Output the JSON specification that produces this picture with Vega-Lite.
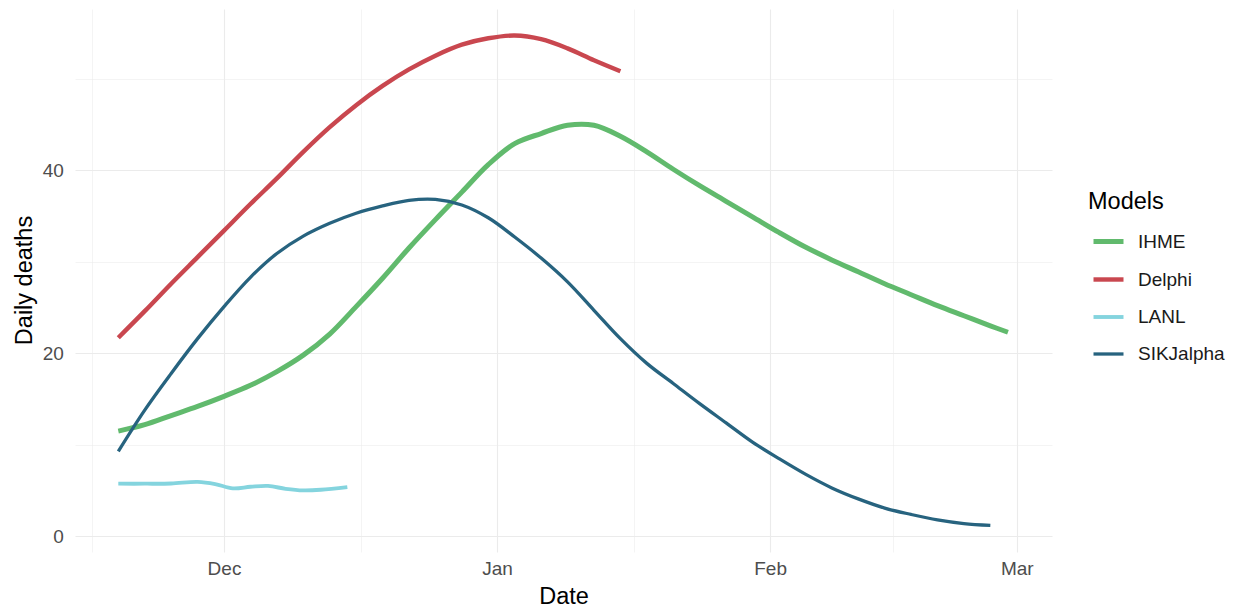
{
  "$schema": "https://vega.github.io/schema/vega-lite/v6.json",
  "autosize": {"type": "none"},
  "width": 977,
  "height": 543,
  "padding": {"left": 75, "top": 9, "right": 182, "bottom": 56},
  "background": "white",
  "config": {
    "view": {"stroke": null},
    "font": "Liberation Sans",
    "axis": {"domain": false, "ticks": false, "tickSize": 0, "gridColor": "#EBEBEB", "labelColor": "#4D4D4D", "labelFontSize": 19, "titleFontSize": 23.5, "titleFontWeight": "normal", "titleColor": "#000000", "labelFont": "Liberation Sans", "titleFont": "Liberation Sans"},
    "legend": {"labelFont": "Liberation Sans", "titleFont": "Liberation Sans"}
  },
  "data": {
    "values": [
      {"date": "2020-11-19", "model": "IHME", "deaths": 11.5},
      {"date": "2020-11-22", "model": "IHME", "deaths": 12.2},
      {"date": "2020-11-25", "model": "IHME", "deaths": 13.2},
      {"date": "2020-11-28", "model": "IHME", "deaths": 14.2},
      {"date": "2020-12-01", "model": "IHME", "deaths": 15.3},
      {"date": "2020-12-04", "model": "IHME", "deaths": 16.5},
      {"date": "2020-12-07", "model": "IHME", "deaths": 18.0},
      {"date": "2020-12-10", "model": "IHME", "deaths": 19.8},
      {"date": "2020-12-13", "model": "IHME", "deaths": 22.1},
      {"date": "2020-12-16", "model": "IHME", "deaths": 25.1},
      {"date": "2020-12-19", "model": "IHME", "deaths": 28.2},
      {"date": "2020-12-22", "model": "IHME", "deaths": 31.5},
      {"date": "2020-12-25", "model": "IHME", "deaths": 34.6},
      {"date": "2020-12-28", "model": "IHME", "deaths": 37.6},
      {"date": "2020-12-31", "model": "IHME", "deaths": 40.6},
      {"date": "2021-01-03", "model": "IHME", "deaths": 42.9},
      {"date": "2021-01-06", "model": "IHME", "deaths": 44.0},
      {"date": "2021-01-09", "model": "IHME", "deaths": 44.9},
      {"date": "2021-01-12", "model": "IHME", "deaths": 44.9},
      {"date": "2021-01-15", "model": "IHME", "deaths": 43.7},
      {"date": "2021-01-18", "model": "IHME", "deaths": 42.0},
      {"date": "2021-01-21", "model": "IHME", "deaths": 40.1},
      {"date": "2021-01-24", "model": "IHME", "deaths": 38.3},
      {"date": "2021-01-27", "model": "IHME", "deaths": 36.6},
      {"date": "2021-01-30", "model": "IHME", "deaths": 34.9},
      {"date": "2021-02-02", "model": "IHME", "deaths": 33.2},
      {"date": "2021-02-05", "model": "IHME", "deaths": 31.6},
      {"date": "2021-02-08", "model": "IHME", "deaths": 30.2},
      {"date": "2021-02-11", "model": "IHME", "deaths": 28.9},
      {"date": "2021-02-14", "model": "IHME", "deaths": 27.6},
      {"date": "2021-02-17", "model": "IHME", "deaths": 26.4},
      {"date": "2021-02-20", "model": "IHME", "deaths": 25.2},
      {"date": "2021-02-23", "model": "IHME", "deaths": 24.1},
      {"date": "2021-02-26", "model": "IHME", "deaths": 23.0},
      {"date": "2021-02-28", "model": "IHME", "deaths": 22.3},
      {"date": "2020-11-19", "model": "Delphi", "deaths": 21.7},
      {"date": "2020-11-22", "model": "Delphi", "deaths": 24.6},
      {"date": "2020-11-25", "model": "Delphi", "deaths": 27.6},
      {"date": "2020-11-28", "model": "Delphi", "deaths": 30.5},
      {"date": "2020-12-01", "model": "Delphi", "deaths": 33.4},
      {"date": "2020-12-04", "model": "Delphi", "deaths": 36.3},
      {"date": "2020-12-07", "model": "Delphi", "deaths": 39.1},
      {"date": "2020-12-10", "model": "Delphi", "deaths": 42.0},
      {"date": "2020-12-13", "model": "Delphi", "deaths": 44.7},
      {"date": "2020-12-16", "model": "Delphi", "deaths": 47.1},
      {"date": "2020-12-19", "model": "Delphi", "deaths": 49.2},
      {"date": "2020-12-22", "model": "Delphi", "deaths": 51.0},
      {"date": "2020-12-25", "model": "Delphi", "deaths": 52.5},
      {"date": "2020-12-28", "model": "Delphi", "deaths": 53.7},
      {"date": "2020-12-31", "model": "Delphi", "deaths": 54.4},
      {"date": "2021-01-03", "model": "Delphi", "deaths": 54.7},
      {"date": "2021-01-06", "model": "Delphi", "deaths": 54.3},
      {"date": "2021-01-09", "model": "Delphi", "deaths": 53.3},
      {"date": "2021-01-12", "model": "Delphi", "deaths": 52.0},
      {"date": "2021-01-15", "model": "Delphi", "deaths": 50.8},
      {"date": "2020-11-19", "model": "LANL", "deaths": 5.76},
      {"date": "2020-11-22", "model": "LANL", "deaths": 5.76},
      {"date": "2020-11-25", "model": "LANL", "deaths": 5.78},
      {"date": "2020-11-28", "model": "LANL", "deaths": 5.96},
      {"date": "2020-11-30", "model": "LANL", "deaths": 5.72},
      {"date": "2020-12-02", "model": "LANL", "deaths": 5.25},
      {"date": "2020-12-04", "model": "LANL", "deaths": 5.42},
      {"date": "2020-12-06", "model": "LANL", "deaths": 5.52},
      {"date": "2020-12-08", "model": "LANL", "deaths": 5.2},
      {"date": "2020-12-10", "model": "LANL", "deaths": 5.03},
      {"date": "2020-12-12", "model": "LANL", "deaths": 5.1},
      {"date": "2020-12-15", "model": "LANL", "deaths": 5.39},
      {"date": "2020-11-19", "model": "SIKJalpha", "deaths": 9.3},
      {"date": "2020-11-22", "model": "SIKJalpha", "deaths": 13.8},
      {"date": "2020-11-25", "model": "SIKJalpha", "deaths": 17.8},
      {"date": "2020-11-28", "model": "SIKJalpha", "deaths": 21.6},
      {"date": "2020-12-01", "model": "SIKJalpha", "deaths": 25.1},
      {"date": "2020-12-04", "model": "SIKJalpha", "deaths": 28.3},
      {"date": "2020-12-07", "model": "SIKJalpha", "deaths": 30.9},
      {"date": "2020-12-10", "model": "SIKJalpha", "deaths": 32.8},
      {"date": "2020-12-13", "model": "SIKJalpha", "deaths": 34.2},
      {"date": "2020-12-16", "model": "SIKJalpha", "deaths": 35.3},
      {"date": "2020-12-19", "model": "SIKJalpha", "deaths": 36.1},
      {"date": "2020-12-22", "model": "SIKJalpha", "deaths": 36.7},
      {"date": "2020-12-25", "model": "SIKJalpha", "deaths": 36.8},
      {"date": "2020-12-28", "model": "SIKJalpha", "deaths": 36.2},
      {"date": "2020-12-31", "model": "SIKJalpha", "deaths": 34.8},
      {"date": "2021-01-03", "model": "SIKJalpha", "deaths": 32.7},
      {"date": "2021-01-06", "model": "SIKJalpha", "deaths": 30.4},
      {"date": "2021-01-09", "model": "SIKJalpha", "deaths": 27.8},
      {"date": "2021-01-12", "model": "SIKJalpha", "deaths": 24.7},
      {"date": "2021-01-15", "model": "SIKJalpha", "deaths": 21.6},
      {"date": "2021-01-18", "model": "SIKJalpha", "deaths": 18.9},
      {"date": "2021-01-21", "model": "SIKJalpha", "deaths": 16.7},
      {"date": "2021-01-24", "model": "SIKJalpha", "deaths": 14.5},
      {"date": "2021-01-27", "model": "SIKJalpha", "deaths": 12.4},
      {"date": "2021-01-30", "model": "SIKJalpha", "deaths": 10.3},
      {"date": "2021-02-02", "model": "SIKJalpha", "deaths": 8.5},
      {"date": "2021-02-05", "model": "SIKJalpha", "deaths": 6.8},
      {"date": "2021-02-08", "model": "SIKJalpha", "deaths": 5.3},
      {"date": "2021-02-11", "model": "SIKJalpha", "deaths": 4.1},
      {"date": "2021-02-14", "model": "SIKJalpha", "deaths": 3.1},
      {"date": "2021-02-17", "model": "SIKJalpha", "deaths": 2.4},
      {"date": "2021-02-20", "model": "SIKJalpha", "deaths": 1.8},
      {"date": "2021-02-23", "model": "SIKJalpha", "deaths": 1.4},
      {"date": "2021-02-26", "model": "SIKJalpha", "deaths": 1.2}
    ],
    "format": {"parse": {"date": "date:'%Y-%m-%d'"}}
  },
  "mark": {"type": "line", "interpolate": "catmull-rom", "strokeCap": "butt"},
  "encoding": {
    "x": {
      "field": "date",
      "type": "temporal",
      "title": "Date",
      "scale": {"domain": [{"year": 2020, "month": 11, "date": 14, "hours": 2}, {"year": 2021, "month": 3, "date": 5, "hours": 0}], "nice": false},
      "axis": {
        "values": [
          {"year": 2020, "month": 11, "date": 16},
          {"year": 2020, "month": 12, "date": 1},
          {"year": 2020, "month": 12, "date": 16, "hours": 12},
          {"year": 2021, "month": 1, "date": 1},
          {"year": 2021, "month": 1, "date": 16, "hours": 12},
          {"year": 2021, "month": 2, "date": 1},
          {"year": 2021, "month": 2, "date": 15},
          {"year": 2021, "month": 3, "date": 1}
        ],
        "labelExpr": "date(datum.value) === 1 && hours(datum.value) === 0 ? timeFormat(datum.value, '%b') : ''",
        "gridWidth": {"condition": {"test": "date(datum.value) === 1 && hours(datum.value) === 0", "value": 1.1}, "value": 0.55},
        "labelPadding": 7.5,
        "labelOverlap": false,
        "labelFlush": false,
        "titleY": 32,
        "titleBaseline": "top"
      }
    },
    "y": {
      "field": "deaths",
      "type": "quantitative",
      "title": "Daily deaths",
      "scale": {"domain": [-1.7, 57.6], "nice": false, "zero": false},
      "axis": {
        "values": [0, 10, 20, 30, 40, 50],
        "labelExpr": "datum.value % 20 === 0 ? datum.label : ''",
        "gridWidth": {"condition": {"test": "datum.value % 20 === 0", "value": 1.1}, "value": 0.55},
        "labelPadding": 11.7,
        "labelOverlap": false,
        "titleX": -43.3,
        "titleY": 271,
        "titleAngle": 270,
        "titleAlign": "center",
        "titleBaseline": "alphabetic"
      }
    },
    "color": {
      "field": "model",
      "type": "nominal",
      "scale": {"domain": ["IHME", "Delphi", "LANL", "SIKJalpha"], "range": ["#61BA6D", "#C9474F", "#84D4DE", "#27637F"]},
      "legend": {
        "title": "Models",
        "orient": "none",
        "legendX": 1013,
        "legendY": 180.5,
        "padding": 0,
        "titleFontSize": 23.5,
        "titleFontWeight": "normal",
        "titleColor": "#000000",
        "titlePadding": 11,
        "labelFontSize": 19,
        "labelColor": "#1A1A1A",
        "symbolType": "stroke",
        "symbolSize": 900,
        "symbolStrokeWidth": 4.8,
        "symbolOffset": 3,
        "labelOffset": 12,
        "rowPadding": 10
      }
    },
    "strokeWidth": {
      "field": "model",
      "type": "nominal",
      "scale": {"domain": ["IHME", "Delphi", "LANL", "SIKJalpha"], "range": [5, 3.3, 3.3, 3.3]},
      "legend": null
    }
  }
}
